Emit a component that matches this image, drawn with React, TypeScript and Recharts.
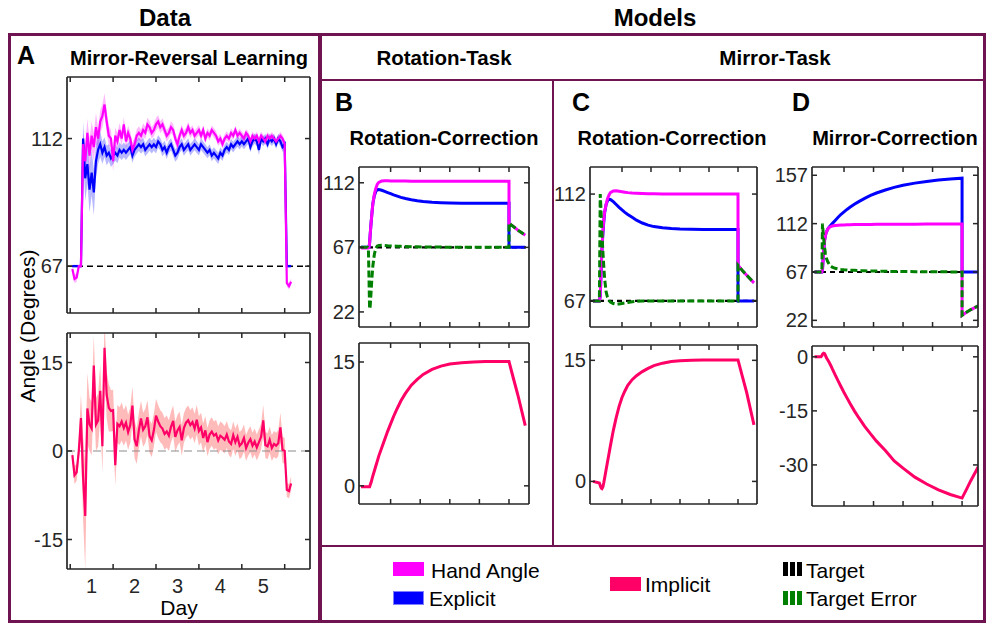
import React from "react";
import { Area, ComposedChart, Line, ReferenceLine, XAxis, YAxis } from "recharts";

const PURPLE = "#6f1451";
const AXIS = "#262626";
const FONT = "'Liberation Sans', Arial, Helvetica, sans-serif";
const HAND_C = "#ff00ff";
const EXPL_C = "#0000ff";
const IMPL_C = "#ff0066";
const ERR_C = "#008000";

// ---- Panel A: data (days) ----
const DAYS = [
  0.55, 0.6, 0.65, 0.7, 0.75, 0.8, 0.85, 0.9, 0.95, 1.0,
  1.05, 1.1, 1.15, 1.2, 1.25, 1.3, 1.35, 1.4, 1.45, 1.5,
  1.55, 1.6, 1.65, 1.7, 1.75, 1.8, 1.85, 1.9, 1.95, 2.0,
  2.05, 2.1, 2.15, 2.2, 2.25, 2.3, 2.35, 2.4, 2.45, 2.5,
  2.55, 2.6, 2.65, 2.7, 2.75, 2.8, 2.85, 2.9, 2.95, 3.0,
  3.05, 3.1, 3.15, 3.2, 3.25, 3.3, 3.35, 3.4, 3.45, 3.5,
  3.55, 3.6, 3.65, 3.7, 3.75, 3.8, 3.85, 3.9, 3.95, 4.0,
  4.05, 4.1, 4.15, 4.2, 4.25, 4.3, 4.35, 4.4, 4.45, 4.5,
  4.55, 4.6, 4.65, 4.7, 4.75, 4.8, 4.85, 4.9, 4.95, 5.0,
  5.05, 5.1, 5.15, 5.2, 5.25, 5.3, 5.35, 5.4, 5.45, 5.5,
  5.55, 5.6, 5.65,
];

const HAND = [
  66, 62.5, 63, 67, 67, 110, 104, 114, 106, 113,
  109, 116, 112, 118, 120, 124, 118, 113, 112, 104,
  113, 111, 115, 112, 117, 111, 114, 112, 108, 110,
  113, 114, 113, 115, 114, 117, 116, 114, 115, 117,
  118, 116, 117, 115, 113, 114, 116, 115, 112, 110,
  113, 115, 113, 114, 116, 114, 115, 113, 114, 115,
  113, 115, 112, 114, 113, 115, 114, 113, 111, 112,
  110, 112, 113, 112, 114, 113, 115, 113, 114, 113,
  112, 114, 113, 111, 113, 112, 113, 111, 113, 112,
  111, 113, 112, 113, 112, 111, 112, 113, 112, 110,
  61, 60, 61.5,
];

const HAND_SEM = [
  1, 1.5, 1.5, 0.5, 0.5, 4, 6, 5, 6, 5,
  5, 5, 4, 4, 4, 4, 4, 3.5, 3, 3.5,
  3, 3, 2.5, 2.5, 2.5, 2.5, 2.5, 2.5, 2.5, 2.5,
  2.2, 2.3, 2.1, 2.4, 2.2, 2.3, 2.2, 2.1, 2.2, 2.3,
  2.2, 2.1, 2.2, 2, 2.1, 2, 2.1, 2, 2, 2.1,
  1.8, 1.9, 1.8, 1.8, 1.9, 1.8, 1.7, 1.8, 1.7, 1.8,
  1.7, 1.8, 1.7, 1.6, 1.7, 1.6, 1.7, 1.6, 1.6, 1.7,
  1.6, 1.5, 1.6, 1.5, 1.6, 1.5, 1.5, 1.6, 1.5, 1.5,
  1.5, 1.4, 1.5, 1.4, 1.5, 1.4, 1.4, 1.5, 1.4, 1.4,
  1.4, 1.3, 1.4, 1.3, 1.4, 1.3, 1.3, 1.4, 1.3, 1.5,
  1.2, 1.2, 1.2,
];

const EXPL = [
  67, 67, 67, 67, 67, 112, 98, 103, 94, 100,
  93, 104, 108, 110, 107, 109, 106, 107, 105, 106,
  107, 106, 108, 107, 108, 107, 108, 109, 106, 108,
  109, 110, 109, 110, 108, 109, 110, 109, 110, 109,
  111, 110, 108, 109, 107, 109, 110, 108, 106, 107,
  109, 110, 108, 109, 110, 108, 109, 110, 109, 108,
  110, 109, 108, 107, 108, 106, 107, 106, 105, 107,
  106, 108, 109, 108, 110, 109, 110, 111, 110, 111,
  110, 111, 112, 109, 111, 112, 111, 108, 112, 111,
  112, 110, 112, 111, 112, 110, 112, 111, 109, 110,
  67, 67, 67,
];

const EXPL_SEM = [
  0.5, 0.5, 0.5, 0.5, 0.5, 6, 8, 7, 8, 8,
  8, 6, 5, 4.5, 4, 3.5, 3.5, 3, 3, 3,
  2.8, 2.7, 2.7, 2.6, 2.6, 2.6, 2.5, 2.5, 2.5, 2.5,
  2.4, 2.4, 2.4, 2.4, 2.3, 2.3, 2.3, 2.3, 2.3, 2.3,
  2.2, 2.2, 2.3, 2.2, 2.2, 2.2, 2.1, 2.2, 2.2, 2.2,
  2.1, 2.1, 2.1, 2.0, 2.1, 2.1, 2.0, 2.1, 2.1, 2.0,
  2.0, 2.0, 2.0, 1.9, 2.0, 2.0, 1.9, 2.0, 2.0, 1.9,
  1.9, 1.9, 1.9, 1.8, 1.9, 1.9, 1.8, 1.9, 1.9, 1.8,
  1.8, 1.8, 1.8, 1.7, 1.8, 1.8, 1.7, 1.8, 1.8, 1.7,
  1.7, 1.7, 1.7, 1.6, 1.7, 1.7, 1.6, 1.7, 1.7, 1.7,
  0.5, 0.5, 0.5,
];

const IMPL = [
  -0.7, -4.1, -3.6, 0, 5.6, -4.5, -11, 7.2, 4.5, 3.8,
  14.5, 4.5, 5.2, 10.2, 0.8, 17.5, 9.5, 7.3, 6.8, 6.9,
  -2.4, 4.6, 4.2, 5.0, 3.9, 4.8, 3.2, 4.4, 7.7, 2.0,
  0.8, 3.5, 5.5, 3.6, 4.2, 5.7, 2.5, 1.8, 3.5, 6.0,
  5.0, 4.2, 3.8, 2.9, 3.3, 2.6, 4.1, 5.1, 2.4, 3.5,
  4.1, 1.8, 3.9, 4.8, 5.2, 4.4, 4.9, 3.8, 5.3, 3.4,
  4.0, 2.2, 3.5, 1.5, 2.8, 3.3, 2.6, 2.9, 1.8, 2.6,
  2.3, 1.9, 2.8, 1.6, 1.2, 2.7, 1.5, 2.4, 0.9, 1.3,
  2.2, 0.5, 1.4, 2.0, 0.9, 1.6, 0.6, 1.5, 2.4, 5.2,
  1.0, 0.8, 1.9, 0.5, 1.2, 0.9, 1.3, 4.0, 0.2, 0.0,
  -6.6, -6.8, -5.5,
];

const IMPL_SEM = [
  1, 1.5, 1.5, 1.5, 4, 7, 9, 6, 4.5, 4.5,
  5, 4.5, 4.5, 4.5, 4.5, 4.5, 4, 4, 3.5, 3.5,
  3.5, 3.2, 3.2, 3.2, 3, 3, 3, 3, 3.2, 3.2,
  3, 3, 3, 2.9, 2.9, 2.9, 2.8, 2.8, 2.8, 2.8,
  2.8, 2.7, 2.7, 2.7, 2.7, 2.6, 2.6, 2.6, 2.6, 2.6,
  2.6, 2.6, 2.5, 2.5, 2.5, 2.5, 2.5, 2.5, 2.5, 2.5,
  2.5, 2.5, 2.4, 2.4, 2.4, 2.4, 2.4, 2.4, 2.4, 2.4,
  2.4, 2.3, 2.3, 2.3, 2.3, 2.3, 2.3, 2.3, 2.3, 2.3,
  2.3, 2.2, 2.2, 2.2, 2.2, 2.2, 2.2, 2.2, 2.2, 2.6,
  2.2, 2.2, 2.2, 2.2, 2.2, 2.2, 2.2, 2.5, 2.2, 2.2,
  1.2, 1.2, 1.2,
];

const A_TICK_MARKS = [0.5, 1.5, 2.5, 3.5, 4.5, 5.5];
const DAY_LABELS = [1, 2, 3, 4, 5];

// ---- Panels B-D: model simulations ----
const MODEL_X = [
  0, 0.22, 0.25, 0.27, 0.29, 0.31, 0.34, 0.37, 0.4, 0.45,
  0.5, 0.55, 0.6, 0.7, 0.8, 0.9, 1.0, 1.1, 1.2, 1.35,
  1.5, 1.7, 1.9, 2.1, 2.4, 2.7, 3.0, 3.4, 3.8, 4.2,
  4.6, 5.0, 5.0, 5.15, 5.3, 5.55,
];
const MODEL_TICKS = [1, 2, 3, 4, 5];

const B_HAND = [
  66.5, 66.5, 66.5, 66.7, 70, 76, 84, 91, 97.5, 104,
  108, 111, 112.3, 113.2, 113.4, 113.4, 113.3, 113.3, 113.2, 113.2,
  113.2, 113.1, 113.1, 113.1, 113.1, 113.1, 113.1, 113.1, 113.1, 113.1,
  113.1, 113.1, 83.5, 81.5, 79, 75.5,
];
const B_EXPL = [
  67, 67, 67, 67, 70, 76, 84, 91, 97.5, 103,
  106, 107.2, 107.3, 106.8, 106.0, 105.2, 104.4, 103.6, 102.9, 101.8,
  101.0, 100.2, 99.5, 98.9, 98.4, 98.1, 97.9, 97.8, 97.7, 97.7,
  97.7, 97.7, 67, 67, 67, 67,
];
const B_ERR = [
  67, 67, 66, 45, 24, 26, 36, 46, 54, 62,
  66.5, 68, 68.3, 68.4, 68.3, 68.1, 68.0, 67.9, 67.8, 67.7,
  67.6, 67.5, 67.4, 67.3, 67.2, 67.2, 67.1, 67.1, 67.1, 67.1,
  67.1, 67.1, 84, 81.5, 79, 75.5,
];
const B_IMPL = [
  -0.1, -0.1, -0.1, -0.1, -0.1, 0.1, 0.4, 0.8, 1.2, 1.8,
  2.4, 3.0, 3.6, 4.6, 5.6, 6.6, 7.5, 8.4, 9.2, 10.3,
  11.2, 12.2, 12.9, 13.5, 14.1, 14.5, 14.75, 14.9, 15.0, 15.05,
  15.05, 15.05, 15.05, 13.0, 11.0, 7.3,
];

const C_HAND = [
  67, 67, 69, 76, 83, 89, 96, 101, 104.5, 107.5,
  110, 111.5, 112.6, 113.3, 113.4, 113.2, 113.0, 112.8, 112.6, 112.4,
  112.3, 112.2, 112.1, 112.1, 112.0, 112.0, 112.0, 112.0, 112.0, 112.0,
  112.0, 112.0, 82, 79.8, 77.8, 74.6,
];
const C_EXPL = [
  67, 67, 69, 76, 83, 89, 95, 100, 104, 107.5,
  109.2, 109.8, 109.7, 108.8, 107.6, 106.4, 105.3, 104.3, 103.4, 102.2,
  101.0, 99.8, 98.9, 98.3, 97.8, 97.5, 97.3, 97.2, 97.1, 97.1,
  97.1, 97.1, 67, 67, 67, 67,
];
const C_ERR = [
  67, 67, 112, 107, 101, 96, 88, 82, 76.5, 71,
  68.5, 67.2, 66.5, 65.9, 65.6, 65.7, 65.9, 66.1, 66.3, 66.6,
  66.8, 66.95, 67, 67, 67, 67, 67, 67, 67, 67,
  67, 67, 82, 79.8, 77.8, 74.6,
];
const C_IMPL = [
  0, -0.2, -0.5, -0.7, -0.85, -0.9, -0.7, -0.2, 0.4, 1.4,
  2.4, 3.4, 4.4, 6.3, 7.9, 9.3, 10.4, 11.2, 11.9, 12.6,
  13.1, 13.6, 14.0, 14.35, 14.65, 14.85, 14.95, 15.0, 15.05, 15.05,
  15.05, 15.05, 15.05, 13.0, 11.0, 7.0,
];

const D_HAND = [
  67, 67, 67, 69, 78, 87, 96, 101, 104, 107,
  108.5, 109.3, 109.8, 110.2, 110.5, 110.7, 110.8, 110.9, 111.0, 111.1,
  111.2, 111.3, 111.3, 111.4, 111.4, 111.5, 111.5, 111.5, 111.6, 111.6,
  111.7, 111.7, 26.6, 29.5, 32.0, 35.5,
];
const D_EXPL = [
  67, 67, 67, 69, 78, 87, 96, 101, 104, 107,
  109, 110.5, 112, 115, 118, 120.7, 123, 125.2, 127.2, 130,
  132.5, 135.5, 138.2, 140.5, 143.3, 145.7, 147.7, 149.7, 151.3, 152.6,
  153.6, 154.3, 67, 67, 67, 67,
];
const D_ERR = [
  67, 67, 67, 112, 105, 98, 90, 84, 80, 76.5,
  74, 72.5, 71.5, 70.4, 69.8, 69.4, 69.1, 68.9, 68.7, 68.5,
  68.3, 68.1, 67.9, 67.8, 67.6, 67.5, 67.4, 67.3, 67.2, 67.2,
  67.1, 67.1, 26.6, 29.5, 32.0, 35.5,
];
const D_IMPL = [
  0, 0, 0.3, 0.7, 0.9, 1.0, 0.9, 0.4, -0.2, -0.9,
  -1.6, -2.4, -3.3, -5.0, -6.7, -8.3, -9.9, -11.4, -12.9, -15.0,
  -16.9, -19.3, -21.4, -23.4, -26.0, -28.9, -30.9, -33.4, -35.3, -36.9,
  -38.2, -39.2, -39.2, -36.8, -34.3, -30.5,
];

const TARGET = 67;

const aRows = DAYS.map((d, i) => ({
  x: d,
  hand: HAND[i],
  expl: EXPL[i],
  impl: IMPL[i],
  handBand: [HAND[i] - HAND_SEM[i], HAND[i] + HAND_SEM[i]],
  explBand: [EXPL[i] - EXPL_SEM[i], EXPL[i] + EXPL_SEM[i]],
  implBand: [IMPL[i] - IMPL_SEM[i], IMPL[i] + IMPL_SEM[i]],
}));

const modelRows = (hand: number[], expl: number[], err: number[], impl: number[]) =>
  MODEL_X.map((x, i) => ({ x, hand: hand[i], expl: expl[i], err: err[i], impl: impl[i] }));

const bRows = modelRows(B_HAND, B_EXPL, B_ERR, B_IMPL);
const cRows = modelRows(C_HAND, C_EXPL, C_ERR, C_IMPL);
const dRows = modelRows(D_HAND, D_EXPL, D_ERR, D_IMPL);

const boxLine = { stroke: AXIS, strokeWidth: 1.7 };
const TICK_LEN = 5;

// inward matlab-style ticks; the axis hands us the point on the box edge
function makeTick(side: "left" | "right" | "top" | "bottom", labels: number[] | null) {
  return (p: any) => {
    const { x, y, payload } = p;
    const v = payload.value;
    const lbl = labels && labels.includes(v);
    const mark = labels === DAY_LABELS ? !Number.isInteger(v) : true;
    let line = null;
    if (mark) {
      if (side === "left") line = <line x1={x} x2={x + TICK_LEN} y1={y} y2={y} stroke={AXIS} strokeWidth={1.5} />;
      if (side === "right") line = <line x1={x} x2={x - TICK_LEN} y1={y} y2={y} stroke={AXIS} strokeWidth={1.5} />;
      if (side === "top") line = <line x1={x} x2={x} y1={y} y2={y + TICK_LEN} stroke={AXIS} strokeWidth={1.5} />;
      if (side === "bottom") line = <line x1={x} x2={x} y1={y} y2={y - TICK_LEN} stroke={AXIS} strokeWidth={1.5} />;
    }
    let text = null;
    if (lbl && side === "left") {
      text = (
        <text x={x - 4} y={y} dy="0.35em" textAnchor="end" fill={AXIS} fontSize={20} fontFamily={FONT}>
          {v}
        </text>
      );
    }
    if (lbl && side === "bottom") {
      text = (
        <text x={x} y={y + 17} dy="0.35em" textAnchor="middle" fill={AXIS} fontSize={20} fontFamily={FONT}>
          {v}
        </text>
      );
    }
    return (
      <g>
        {line}
        {text}
      </g>
    );
  };
}

type FrameOpts = {
  xDomain: [number, number];
  xTicks: number[];
  yDomain: [number, number];
  yTicks: number[];
  yWidth: number;
  yKey: string;
  dayAxis?: boolean;
  bottomH?: number;
};

// box with inward ticks on all four sides
function frameAxes(o: FrameOpts) {
  const common = { type: "number" as const, allowDataOverflow: true, interval: 0, axisLine: boxLine, tickLine: false, tickSize: 0, tickMargin: 0 };
  const bottomTicks = o.dayAxis ? [...A_TICK_MARKS, ...DAY_LABELS].sort((a, b) => a - b) : o.xTicks;
  return [
    <XAxis
      key="xb"
      xAxisId="b"
      dataKey="x"
      {...common}
      domain={o.xDomain}
      ticks={bottomTicks}
      height={o.dayAxis ? o.bottomH : 1}
      tick={makeTick("bottom", o.dayAxis ? DAY_LABELS : null)}
    />,
    <XAxis
      key="xt"
      xAxisId="t"
      dataKey="x"
      orientation="top"
      {...common}
      domain={o.xDomain}
      ticks={o.xTicks}
      height={1}
      tick={makeTick("top", null)}
    />,
    <YAxis
      key="yl"
      yAxisId="l"
      {...common}
      domain={o.yDomain}
      ticks={o.yTicks}
      width={o.yWidth}
      tick={makeTick("left", o.yTicks)}
    />,
    <YAxis
      key="yr"
      yAxisId="r"
      dataKey={o.yKey}
      orientation="right"
      {...common}
      domain={o.yDomain}
      ticks={o.yTicks}
      width={1}
      tick={makeTick("right", null)}
    />,
  ];
}

type PlotProps = {
  rect: [number, number, number, number];
  data: any[];
  yWidth: number;
  bottomH?: number;
  children: React.ReactNode;
};

function Plot({ rect, data, yWidth, bottomH = 1, children }: PlotProps) {
  const [x0, y0, x1, y1] = rect;
  const width = yWidth + (x1 - x0) + 4;
  const height = 4 + (y1 - y0) + bottomH + 3;
  return (
    <div style={{ position: "absolute", left: x0 - yWidth, top: y0 - 4 }}>
      <ComposedChart width={width} height={height} data={data} margin={{ top: 3, right: 3, bottom: 3, left: 0 }}>
        {children}
      </ComposedChart>
    </div>
  );
}

const series = (key: string, color: string, width: number, dash?: string) => (
  <Line
    key={key}
    xAxisId="b"
    yAxisId="l"
    dataKey={key}
    type="linear"
    stroke={color}
    strokeWidth={width}
    strokeDasharray={dash}
    dot={false}
    activeDot={false}
    isAnimationActive={false}
  />
);

const band = (key: string, color: string, opacity: number) => (
  <Area
    key={key}
    xAxisId="b"
    yAxisId="l"
    dataKey={key}
    type="linear"
    stroke="none"
    fill={color}
    fillOpacity={opacity}
    activeDot={false}
    isAnimationActive={false}
  />
);

function ModelTop({ rect, data, xDomain, yDomain, yTicks }: any) {
  return (
    <Plot rect={rect} data={data} yWidth={40}>
      {frameAxes({ xDomain, xTicks: MODEL_TICKS, yDomain, yTicks, yWidth: 40, yKey: "hand" })}
      <ReferenceLine xAxisId="b" yAxisId="l" y={TARGET} stroke="#000" strokeWidth={2.2} strokeDasharray="5 4" />
      {series("expl", EXPL_C, 3)}
      {series("hand", HAND_C, 3)}
      {series("err", ERR_C, 3, "7 3")}
    </Plot>
  );
}

function ModelBottom({ rect, data, xDomain, yDomain, yTicks }: any) {
  return (
    <Plot rect={rect} data={data} yWidth={40}>
      {frameAxes({ xDomain, xTicks: MODEL_TICKS, yDomain, yTicks, yWidth: 40, yKey: "impl" })}
      {series("impl", IMPL_C, 3)}
    </Plot>
  );
}

function T({ x, y, size, bold, rotate, start, children }: any) {
  return (
    <div
      style={{
        position: "absolute",
        left: x,
        top: y,
        transform: `translate(${start ? "0" : "-50%"},-50%)${rotate ? ` rotate(${rotate}deg)` : ""}`,
        fontSize: size,
        fontWeight: bold ? 700 : 400,
        lineHeight: 1,
        whiteSpace: "nowrap",
        color: "#000",
      }}
    >
      {children}
    </div>
  );
}

const box = (left: number, top: number, width: number, height: number, extra: any = {}) => (
  <div style={{ position: "absolute", left, top, width, height, boxSizing: "border-box", ...extra }} />
);

function Bars({ x, y, color }: { x: number; y: number; color: string }) {
  return (
    <div style={{ position: "absolute", left: x, top: y, display: "flex", gap: 2 }}>
      {[0, 1, 2].map((i) => (
        <div key={i} style={{ width: 5, height: 14, background: color }} />
      ))}
    </div>
  );
}

export default function App() {
  return (
    <div
      style={{
        position: "absolute",
        left: 0,
        top: 0,
        width: 987,
        height: 625,
        background: "#fff",
        fontFamily: FONT,
        overflow: "hidden",
      }}
    >
      {/* panel frames */}
      {box(8, 33, 313, 590, { border: `3px solid ${PURPLE}` })}
      {box(319, 33, 667, 590, { border: `3px solid ${PURPLE}` })}
      {box(320, 79, 665, 2, { background: PURPLE })}
      {box(552, 80, 2, 466, { background: PURPLE })}
      {box(320, 545, 665, 2, { background: PURPLE })}

      {/* headings */}
      <T x={165} y={18} size={24} bold>Data</T>
      <T x={655} y={18} size={24} bold>Models</T>
      <T x={26} y={55} size={25} bold>A</T>
      <T x={189} y={58} size={20} bold>Mirror-Reversal Learning</T>
      <T x={444} y={58} size={20.5} bold>Rotation-Task</T>
      <T x={775} y={58} size={20.5} bold>Mirror-Task</T>
      <T x={344} y={102} size={25} bold>B</T>
      <T x={444} y={138} size={20} bold>Rotation-Correction</T>
      <T x={581} y={102} size={25} bold>C</T>
      <T x={672} y={138} size={20} bold>Rotation-Correction</T>
      <T x={801} y={102} size={25} bold>D</T>
      <T x={895} y={138} size={20} bold>Mirror-Correction</T>
      <T x={27} y={326} size={21} rotate={-90}>Angle (Degrees)</T>
      <T x={179} y={607} size={21}>Day</T>

      {/* A: data */}
      <Plot rect={[67, 77, 310, 313]} data={aRows} yWidth={60}>
        {frameAxes({ xDomain: [0.425, 6.09], xTicks: A_TICK_MARKS, yDomain: [50.5, 133.7], yTicks: [67, 112], yWidth: 60, yKey: "hand" })}
        <ReferenceLine xAxisId="b" yAxisId="l" y={TARGET} stroke="#000" strokeWidth={1.6} strokeDasharray="6 4" />
        {band("handBand", HAND_C, 0.28)}
        {band("explBand", EXPL_C, 0.28)}
        {series("expl", EXPL_C, 2.2)}
        {series("hand", HAND_C, 2.2)}
      </Plot>
      <Plot rect={[67, 333, 310, 569]} data={aRows} yWidth={60} bottomH={46}>
        {frameAxes({
          xDomain: [0.425, 6.09],
          xTicks: A_TICK_MARKS,
          yDomain: [-20, 20],
          yTicks: [-15, 0, 15],
          yWidth: 60,
          yKey: "impl",
          dayAxis: true,
          bottomH: 46,
        })}
        <ReferenceLine xAxisId="b" yAxisId="l" y={0} stroke="#8c8c8c" strokeWidth={1.2} strokeDasharray="8 5" />
        {band("implBand", "#ff5a5a", 0.42)}
        {series("impl", IMPL_C, 2.2)}
      </Plot>

      {/* B-D: models */}
      <ModelTop rect={[359, 167, 529, 327]} data={bRows} xDomain={[-0.068, 5.676]} yDomain={[11.5, 123]} yTicks={[22, 67, 112]} />
      <ModelBottom rect={[359, 343, 529, 504]} data={bRows} xDomain={[-0.068, 5.676]} yDomain={[-2.2, 17.3]} yTicks={[0, 15]} />
      <ModelTop rect={[590, 167, 757, 327]} data={cRows} xDomain={[-0.103, 5.655]} yDomain={[56, 123.4]} yTicks={[67, 112]} />
      <ModelBottom rect={[590, 345, 757, 504]} data={cRows} xDomain={[-0.103, 5.655]} yDomain={[-2.8, 16.9]} yTicks={[0, 15]} />
      <ModelTop rect={[812, 167, 978, 327]} data={dRows} xDomain={[-0.085, 5.54]} yDomain={[15.8, 164.7]} yTicks={[22, 67, 112, 157]} />
      <ModelBottom rect={[812, 346, 978, 506]} data={dRows} xDomain={[-0.085, 5.54]} yDomain={[-41.4, 3]} yTicks={[-30, -15, 0]} />

      {/* legend */}
      {box(393, 562, 31, 14, { background: HAND_C })}
      <T x={431} y={570} size={21} start>Hand Angle</T>
      {box(393, 591, 31, 14, { background: EXPL_C, border: "1px solid #7f7fff" })}
      <T x={429} y={598} size={21} start>Explicit</T>
      {box(610, 577, 31, 14, { background: IMPL_C })}
      <T x={645} y={584} size={21} start>Implicit</T>
      <Bars x={783} y={562} color="#000" />
      <T x={806} y={570} size={21} start>Target</T>
      <Bars x={783} y={591} color={ERR_C} />
      <T x={806} y={598} size={21} start>Target Error</T>
    </div>
  );
}
